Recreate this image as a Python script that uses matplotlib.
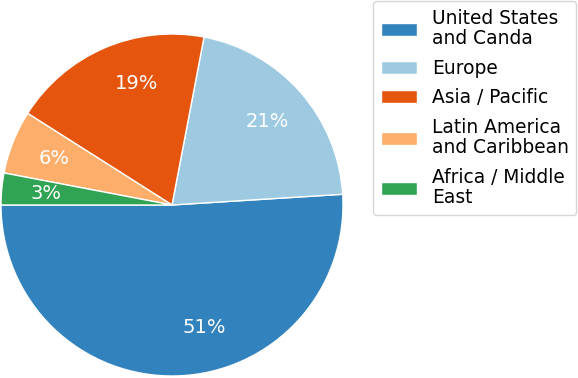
import matplotlib
matplotlib.use('Agg')
import matplotlib.pyplot as plt
import numpy as np

regions = ['United States\nand Canda', 'Europe', 'Asia / Pacific',
           'Latin America\nand Caribbean', 'Africa / Middle\nEast']
shares = [51, 21, 19, 6, 3]
colors = ['#3182bd', '#9ecae1', '#e6550d', '#fdae6b', '#31a354']

W, H = 578, 378
fig = plt.figure(figsize=(W / 100, H / 100), dpi=100)
ax = fig.add_axes([1 / W, 2 / H, 342 / W, 342 / H])

wedges, texts, autotexts = ax.pie(
    shares, colors=colors, startangle=180, autopct='%d%%',
    pctdistance=0.74, wedgeprops=dict(edgecolor='white', linewidth=1),
    textprops=dict(color='white', fontsize=14))

# nudge a couple of labels the way the original sits
shift = {0: 13, 2: -7}
for i, t in shift.items():
    w = wedges[i]
    ang = np.deg2rad((w.theta1 + w.theta2) / 2 + t)
    autotexts[i].set_position((0.74 * np.cos(ang), 0.74 * np.sin(ang)))

ax.set_xlim(-1, 1)
ax.set_ylim(-1, 1)
ax.set_aspect('equal')

leg = fig.legend(wedges, regions, loc='upper left',
                 bbox_to_anchor=(373 / W, 1 - 1 / H), fontsize=13.4,
                 frameon=True, edgecolor='#cccccc', borderpad=0.42,
                 borderaxespad=0, labelspacing=0.56, handlelength=1.95,
                 handletextpad=0.78)
for t in leg.get_texts():
    t.set_linespacing(1.1)

fig.savefig('out.png', dpi=100, facecolor='white')
